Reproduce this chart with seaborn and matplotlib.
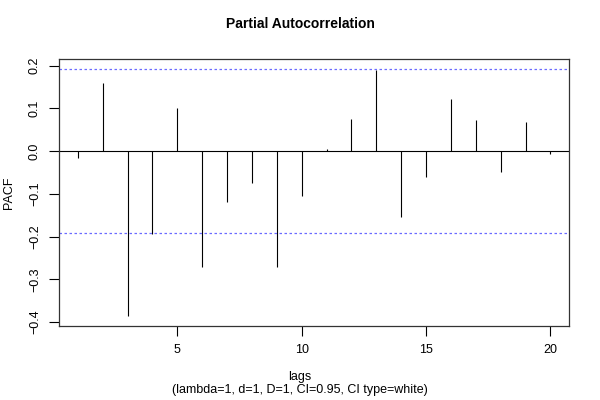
import matplotlib
matplotlib.use("Agg")
import matplotlib.pyplot as plt
import seaborn as sns
import numpy as np

# PACF values
lags = [1, 2, 3, 4, 5, 6, 7, 8, 9, 10, 11, 12, 13, 14, 15, 16, 17, 18, 19, 20]
pacf = [-0.015, 0.159, -0.386, -0.194, 0.100, -0.270, -0.120, -0.074, -0.271, -0.105,
        0.005, 0.076, 0.189, -0.155, -0.060, 0.123, 0.072, -0.048, 0.068, -0.007]
ci = 0.1923
xticks = [5, 10, 15, 20]
yticks = [-0.4, -0.3, -0.2, -0.1, 0.0, 0.1, 0.2]

sns.set_theme(style="ticks")
plt.rcParams['font.family'] = ['Liberation Sans', 'DejaVu Sans']
plt.rcParams['text.color'] = 'black'
plt.rcParams['axes.labelcolor'] = 'black'
plt.rcParams['xtick.color'] = 'black'
plt.rcParams['ytick.color'] = 'black'

fig = plt.figure(figsize=(6, 4), dpi=100)
ax = fig.add_axes([0.0983, 0.185, 0.8505, 0.6675])

ax.vlines(lags, 0, pacf, colors="black", linewidth=0.8)
ax.axhline(0, color="black", linewidth=0.8)
ax.axhline(ci, color="#6b6bff", linewidth=0.9, linestyle=(0, (2, 2)))
ax.axhline(-ci, color="#6b6bff", linewidth=0.9, linestyle=(0, (2, 2)))

lo = min(min(pacf), -ci)
hi = max(max(pacf), ci)
pad = (hi - lo) * 0.04
ax.set_ylim(lo - pad, hi + pad)
ax.set_xlim(1 - 19 * 0.04, 20 + 19 * 0.04)

ax.set_xticks(xticks)
ax.set_yticks(yticks)
ax.set_yticklabels([f"{v:.1f}".replace("-", "\u2212") for v in yticks], rotation=90, va="center")
ax.tick_params(axis="both", direction="out", length=7, width=0.8, labelsize=9, color="black", pad=6)
for s in ax.spines.values():
    s.set_color("#333333")
    s.set_linewidth(0.9)

fig.text(0.5, 0.94, "Partial Autocorrelation", ha="center", va="center",
         fontsize=10, fontweight="bold")
ax.set_ylabel("PACF", fontsize=9, labelpad=10)
fig.text(0.5, 0.058, "lags", ha="center", va="center", fontsize=9)
fig.text(0.5, 0.025, "(lambda=1, d=1, D=1, CI=0.95, CI type=white)", ha="center",
         va="center", fontsize=9)

fig.savefig("out.png", dpi=100, facecolor="white")
